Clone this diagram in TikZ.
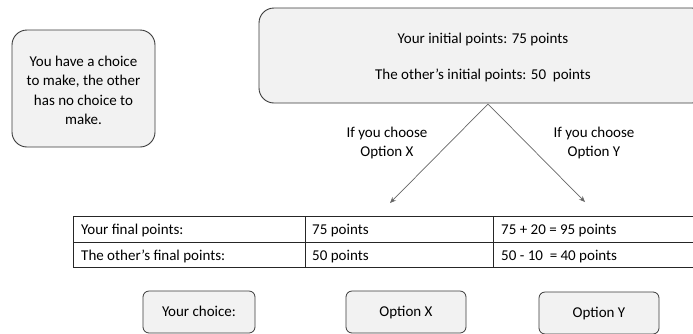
\documentclass[tikz,border=0pt]{standalone}
\usepackage{fontspec}
\setmainfont{Carlito}
\usetikzlibrary{shapes,calc,arrows.meta}
\definecolor{boxfill}{HTML}{F2F2F2}
\definecolor{boxline}{HTML}{3A3A3A}
\tikzstyle{infobox}=[draw=boxline, fill=boxfill, line width=0.9pt, rounded corners=15pt]
\tikzstyle{choicebox}=[draw=boxline, fill=boxfill, line width=0.8pt, rounded corners=6pt, minimum height=42pt, inner sep=0pt, text height=11pt, text depth=3pt]
\tikzstyle{branch}=[-{Stealth[length=6pt, width=5pt]}, draw=black!60, line width=0.7pt]
\tikzstyle{cell}=[anchor=west, inner sep=0pt, text height=11pt, text depth=3pt]
\tikzstyle{grid}=[line width=0.8pt, draw=black!85]

\begin{document}
\begin{tikzpicture}[x=1pt, y=-1pt, font=\fontsize{15}{19.5}\selectfont]
\clip (0,0) rectangle (693,333);
% boxes on top
\node[infobox, minimum width=143pt, minimum height=117pt] (note) at (83.5,88.5) {};
\node[align=center] (notetext) at ($(note.center)+(0,2)$)
  {You have a choice\\to make, the other\\has no choice to\\make.};
\node[infobox, minimum width=448pt, minimum height=95pt] (initial) at (483,55.5) {};
\node[align=center] (initialtext) at ($(initial.center)+(0,2)$)
  {Your initial points: 75 points\\[16pt]The other’s initial points: 50\ \ points};
% the two branches
\coordinate (apex) at (488,104);
\coordinate (xend) at (390,203);
\coordinate (yend) at (585,202);
\draw[branch] (apex) -- (xend);
\draw[branch] (apex) -- (yend);
\node[align=center] (xlabel) at (387,143) {If you choose\\Option X};
\node[align=center] (ylabel) at (594,143) {If you choose\\Option Y};
% table of final points
\foreach \y in {216,242,267} \draw[grid] (73,\y) -- (705,\y);
\foreach \x in {73,305,493} \draw[grid] (\x,216) -- (\x,267);
\foreach \r/\y/\a/\b/\c in {1/230/Your final points:/75 points/75 + 20 = 95 points,
                            2/256/The other’s final points:/50 points/50 - 10\ \ = 40 points} {
 \node[cell] (name\r) at (81,\y) {\a};
 \node[cell] (optx\r) at (312,\y) {\b};
 \node[cell] (opty\r) at (501,\y) {\c};
}
% choice buttons
\node[choicebox, minimum width=112pt] (yourchoice) at (199,312) {Your choice:};
\node[choicebox, minimum width=120pt] (choosex) at (406,312) {Option X};
\node[choicebox, minimum width=120pt] (choosey) at (599,313) {Option Y};
\end{tikzpicture}
\end{document}
